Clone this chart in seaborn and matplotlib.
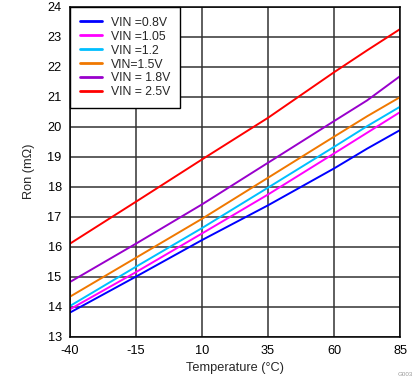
import matplotlib as mpl
mpl.use("Agg")
from matplotlib import pyplot as plt
import seaborn as sns
import pandas as pd

# temperature points (deg C)
temps = [-40, -15, 10, 35, 60, 72.5, 85]

# Ron (mOhm) per input voltage
ron_08 = [13.80, 15.00, 16.22, 17.38, 18.61, 19.27, 19.89]
ron_105 = [13.91, 15.15, 16.44, 17.74, 19.11, 19.80, 20.49]
ron_12 = [14.02, 15.33, 16.62, 17.97, 19.33, 20.02, 20.67]
ron_15 = [14.33, 15.63, 16.93, 18.30, 19.67, 20.35, 20.99]
ron_18 = [14.82, 16.10, 17.41, 18.80, 20.19, 20.88, 21.69]
ron_25 = [16.10, 17.50, 18.91, 20.30, 21.82, 22.55, 23.26]

labels = ["VIN =0.8V", "VIN =1.05", "VIN =1.2", "VIN=1.5V", "VIN = 1.8V", "VIN = 2.5V"]
series = [ron_08, ron_105, ron_12, ron_15, ron_18, ron_25]
colors = ["#0000FF", "#FF00FF", "#00BFFF", "#F07800", "#9900CC", "#FF0000"]

x_ticks = [-40, -15, 10, 35, 60, 85]
y_ticks = list(range(13, 25))

rows = []
for lab, vals in zip(labels, series):
    for t, v in zip(temps, vals):
        rows.append({"Temp": t, "Ron": v, "VIN": lab})
df = pd.DataFrame(rows)

sns.set_style("white")
plt.rcParams["font.family"] = ["Liberation Sans", "DejaVu Sans"]
plt.rcParams["axes.unicode_minus"] = False

fig = plt.figure(figsize=(4.19, 3.82), dpi=100)
ax = fig.add_axes([0.167, 0.119, 0.788, 0.863])

sns.lineplot(data=df, x="Temp", y="Ron", hue="VIN", palette=dict(zip(labels, colors)),
             hue_order=labels, linewidth=1.4, ax=ax)

ax.set_xlim(-40, 85)
ax.set_ylim(13, 24)
ax.set_xticks(x_ticks)
ax.set_yticks(y_ticks)
ax.tick_params(labelsize=9.2, length=0, pad=6, colors="black")
ax.grid(True, color="#333333", linewidth=1.1)
for s in ax.spines.values():
    s.set_color("black")
    s.set_linewidth(1.1)
ax.set_xlabel("Temperature (°C)", fontsize=9.2, labelpad=4)
ax.set_ylabel("Ron (mΩ)", fontsize=9.2, labelpad=9)

leg = ax.legend(loc="upper left", bbox_to_anchor=(0, 1), borderaxespad=0, fontsize=8.8,
                handlelength=1.8, handletextpad=0.75, labelspacing=0.16, borderpad=0.8,
                fancybox=False, framealpha=1, edgecolor="black")
leg.get_frame().set_linewidth(1.0)
for line in leg.get_lines():
    line.set_linewidth(2.0)

fig.text(0.985, 0.012, "G003", fontsize=4.5, color="#999999", ha="right", va="bottom")

fig.savefig("out.png", dpi=100)
